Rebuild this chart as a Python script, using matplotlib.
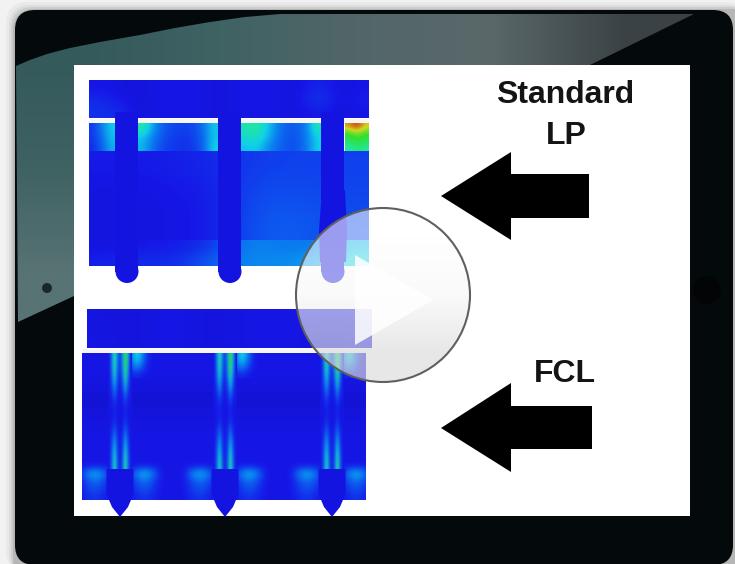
import numpy as np
import matplotlib
matplotlib.use('Agg')
import matplotlib.pyplot as plt
from matplotlib.colors import LinearSegmentedColormap, to_rgb
from matplotlib.patches import Circle, FancyBboxPatch, Polygon, Rectangle

plt.rcParams['font.family'] = ['Liberation Sans', 'DejaVu Sans']

# labels
label_top = ['Standard', 'LP']
label_bottom = ['FCL']

# 上面那块: stress values per region, left to right, top to bottom
top_plate = [[.05, .04, .03, .05, .05, .05, .03, .05, .05, .05, .03, .09, .03, .05],
             [.09, .05, .03, .05, .05, .05, .03, .05, .05, .05, .04, .14, .03, .07],
             [.11, .10, .03, .05, .05, .05, .03, .05, .05, .05, .03, .07, .03, .05]]
top_band_0 = [[.12, .28, .44], [.12, .24, .42], [.10, .20, .38]]
top_band_1 = [[.62, .34, .20, .15, .14, .15, .24, .44],
              [.42, .28, .18, .13, .12, .13, .22, .42],
              [.40, .24, .15, .12, .11, .12, .20, .46]]
top_band_2 = [[.56, .62, .46, .30, .20, .20, .28, .58],
              [.50, .56, .42, .27, .18, .18, .27, .46],
              [.42, .45, .33, .24, .18, .18, .26, .46]]
top_band_3 = [[.90, 1.0, .86], [.72, .78, .72], [.66, .72, .68], [.58, .66, .60]]
top_body = [[.06, .06, .07, .09, .12, .14, .14, .14],
            [.04, .04, .05, .06, .15, .17, .16, .15],
            [.04, .04, .05, .06, .16, .21, .18, .17]]
top_foot = [[.04, .05, .06, .10, .30, .26, .26, .40],
            [.07, .10, .09, .20, .31, .30, .35, .50]]

# 下面那块
bottom_plate = [[.04, .03, .05, .05, .03, .05, .05, .05, .03, .05],
                [.05, .03, .05, .05, .03, .05, .05, .05, .03, .05]]
bottom_body = [[.05], [.05], [.01], [.04], [.05], [.05], [.05], [.05]]
streak_tile = [[.05, .30, .60, .30, .10, .35, .72, .40, .05],
               [.05, .26, .50, .22, .08, .30, .62, .32, .05],
               [.05, .16, .34, .14, .05, .16, .40, .18, .05],
               [.05, .07, .14, .06, .05, .06, .15, .07, .05],
               [.05, .05, .06, .05, .05, .05, .06, .05, .05],
               [.05, .06, .12, .06, .05, .06, .14, .06, .05],
               [.05, .14, .30, .12, .05, .12, .32, .14, .05],
               [.05, .20, .42, .16, .05, .16, .46, .20, .05],
               [.05, .24, .55, .22, .05, .22, .60, .25, .05]]
glow_top_tile = [[.05, .45, .42, .15, .05],
                 [.05, .34, .28, .10, .05],
                 [.05, .08, .07, .05, .05]]
glow_foot_tile = [[.05, .05, .05, .05, .05, .05, .05, .05, .05, .05, .05],
                  [.05, .30, .42, .28, .05, .05, .05, .30, .44, .28, .05],
                  [.05, .16, .24, .16, .05, .05, .05, .16, .25, .15, .05],
                  [.05, .13, .18, .12, .05, .05, .05, .13, .18, .12, .05],
                  [.05, .09, .12, .08, .05, .05, .05, .08, .12, .08, .05]]

# bolts and layout in px
bolts_top = [127, 230, 333]
bolts_bottom = [120, 225, 332]

cmap = LinearSegmentedColormap.from_list('fem', [
    (0, '#1212cc'), (.05, '#1616e6'), (.15, '#0f46ee'), (.3, '#0a88f0'), (.45, '#10d0e8'),
    (.6, '#20e8a0'), (.72, '#30e030'), (.85, '#d0d820'), (1, '#d02810')])
bolt_color = '#1414e0'

fig = plt.figure(figsize=(7.35, 5.64), dpi=100, facecolor='#f2f2f2')
ax = fig.add_axes([0, 0, 1, 1])
ax.axis('off')


def field(values, x0, x1, y0, y1, z=3, clip=None):
    im = ax.imshow(np.array(values, dtype=float), cmap=cmap, vmin=0, vmax=1, extent=(x0, x1, y1, y0),
                   interpolation='bicubic', aspect='auto', zorder=z)
    if clip is not None:
        im.set_clip_path(clip)
    return im


def bolt(x, y0, y1, half, z=4):
    ax.add_patch(Rectangle((x - half, y0), 2 * half, y1 - y0, color=bolt_color, lw=0, zorder=z))


# 平板外壳
for pad, a in [(9, .05), (6, .08), (4, .12), (2, .18)]:
    ax.add_patch(FancyBboxPatch((15 - pad, 11 - pad), 740, 570,
                                boxstyle='round,pad=0,rounding_size=22', fc='#555555', ec='none', alpha=a, zorder=0))
ax.add_patch(FancyBboxPatch((15, 10), 718, 555, boxstyle='round,pad=0,rounding_size=20',
                            fc='#04090b', ec='none', zorder=1))

glass_rows = [['#355a5b', '#3f6263', '#526668', '#5a686a', '#3a4245'],
              ['#3f6263', '#4a6566', '#4e6466', '#4a5a5c', '#3a4245'],
              ['#587374', '#52696a', '#4c6466', '#48585a', '#3a4245']]
glass_rgb = np.array([[to_rgb(c) for c in row] for row in glass_rows])
glass = ax.imshow(glass_rgb, extent=(15, 695, 325, 13), interpolation='bilinear', aspect='auto', zorder=1.5)
glass_edge = Polygon([(16, 66), (30, 60), (47, 54), (70, 48), (100, 42), (140, 35), (175, 28), (210, 22),
                      (245, 17), (280, 14), (694, 14), (590, 65),
                      (690, 65), (690, 296), (74, 296), (18, 322)], closed=True, transform=ax.transData)
glass.set_clip_path(glass_edge)

ax.add_patch(Circle((47, 288), 5, color='#1a2729', lw=0, zorder=2))
ax.add_patch(Circle((707, 290), 14, color='#020405', lw=0, zorder=2))

# white slide
ax.add_patch(Rectangle((74, 65), 616, 451, color='white', lw=0, zorder=2))

# standard LP
field(top_plate, 89, 369, 80, 118)
field(top_band_0, 89, 115, 123, 151)
field(top_band_1, 138, 218, 123, 151)
field(top_band_2, 241, 322, 123, 151)
field(top_band_3, 345, 369, 123, 151)
field(top_body, 89, 369, 151, 240)
field(top_foot, 89, 369, 240, 266)
ax.add_patch(Rectangle((89, 118.5), 280, 4, color='#f6f6f6', lw=0, zorder=3.5))
for x in bolts_top:
    bolt(x, 112, 272, 11.5)
    ax.add_patch(Circle((x, 271.5), 11.5, color=bolt_color, lw=0, zorder=4))
ax.add_patch(Polygon([(322, 190), (319, 230), (320, 262), (346, 262), (347, 230), (345, 190)],
                     color=bolt_color, lw=0, zorder=4))

# FCL
field(bottom_plate, 87, 372, 309, 348)
field(bottom_body, 82, 366, 353, 500)
body_clip = Rectangle((82, 353), 284, 147, transform=ax.transData)
for x in bolts_bottom:
    field(glow_foot_tile, x - 45, x + 45, 462, 500, z=3.2, clip=body_clip)
    field(streak_tile, x - 12, x + 12, 353, 470, z=3.4)
    field(glow_top_tile, x + 6, x + 34, 353, 378, z=3.3, clip=body_clip)
ax.add_patch(Rectangle((82, 349), 284, 4, color='#f6f6f6', lw=0, zorder=3.5))
ax.add_patch(Rectangle((366, 349), 6, 2, color='#f6f6f6', lw=0, zorder=3.5))
for x in bolts_bottom:
    ax.add_patch(Polygon([(x - 13.5, 469), (x + 13.5, 469), (x + 13.5, 494), (x + 8, 507), (x, 517),
                          (x - 8, 507), (x - 13.5, 494)], color=bolt_color, lw=0, zorder=4))

# arrows
ax.add_patch(Polygon([(441, 196), (511, 152), (511, 174), (589, 174), (589, 218), (511, 218), (511, 240)],
                     color='black', lw=0, zorder=5))
ax.add_patch(Polygon([(441, 428), (511, 383), (511, 406), (592, 406), (592, 449), (511, 449), (511, 472)],
                     color='black', lw=0, zorder=5))

ax.text(565, 95, label_top[0], fontsize=23, fontweight='bold', color='#141414', ha='center', va='center', zorder=5)
ax.text(566, 136, label_top[1], fontsize=23, fontweight='bold', color='#141414', ha='center', va='center', zorder=5)
ax.text(565, 374, label_bottom[0], fontsize=23, fontweight='bold', color='#141414', ha='center', va='center', zorder=5)

# play button
disc_rows = [[(1, 1, 1, .58)], [(.97, .97, .97, .62)], [(.86, .86, .86, .66)]]
disc = ax.imshow(np.array(disc_rows), extent=(296, 470, 382, 208), interpolation='bilinear', aspect='auto', zorder=6)
disc.set_clip_path(Circle((383, 295), 87, transform=ax.transData))
ax.add_patch(Circle((383, 295), 87, fc='none', ec='#606060', lw=1.5, zorder=7))
ax.add_patch(Polygon([(355, 255), (355, 345), (433, 300)], fc='white', ec='none', alpha=.85, zorder=7))

ax.set_xlim(0, 735)
ax.set_ylim(564, 0)
fig.savefig('out.png', dpi=100, facecolor=fig.get_facecolor())
